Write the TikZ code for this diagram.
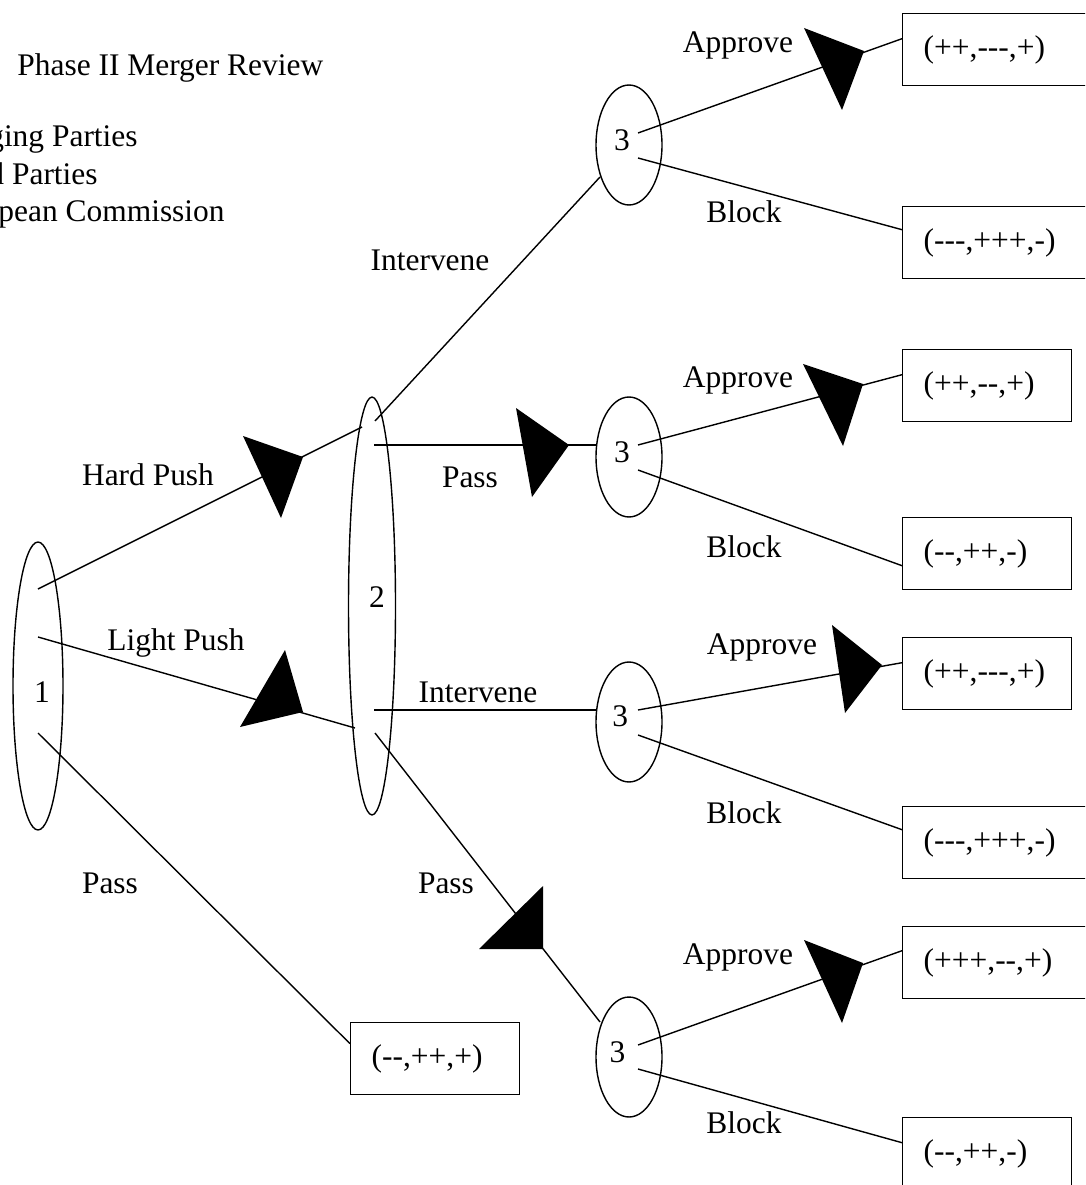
\documentclass[tikz,border=0pt]{standalone}
\usepackage{fontspec}
\setmainfont{Liberation Serif}
\usetikzlibrary{positioning,shapes.geometric,calc}

\tikzset{
  player/.style={draw,ellipse,line width=0.8pt,inner sep=0pt},
  third/.style={player,minimum width=1.32cm,minimum height=2.4cm},
  payoff/.style={draw,rectangle,line width=0.8pt,anchor=north west,minimum height=1.44cm,
    inner xsep=0.42cm,align=left,text width=2.54cm},
  wide/.style={text width=3.3cm},
  move/.style={line width=0.8pt},
  head/.style={fill=black},
  lbl/.style={inner sep=0pt}
}

\begin{document}
\begin{tikzpicture}[x=0.02cm,y=-0.02cm,every node/.style={font=\fontsize{17.9}{21}\selectfont}]
  \useasboundingbox (0,0) rectangle (1085,1185);
  \clip (0,0) rectangle (1085,1185);

  % title and key
  \node[lbl,anchor=base west] (title) at (17,76) {Phase II Merger Review};
  \node[lbl,anchor=base east] (key1) at (138,147) {ging Parties};
  \node[lbl,anchor=base east] (key2) at (98,184.5) {d Parties};
  \node[lbl,anchor=base east] (key3) at (225,222) {pean Commission};

  % decision nodes
  \node[player,minimum width=1cm,minimum height=5.76cm,
    label={[lbl,xshift=2.3pt,yshift=-3.4pt]center:1}] (p1) at (38,686) {};
  \node[player,minimum width=0.94cm,minimum height=8.36cm,
    label={[lbl,xshift=2.8pt,yshift=5pt]center:2}] (p2) at (372,606) {};
  \node[third,label={[lbl,xshift=-4pt,yshift=2.8pt]center:3}] (c1) at (629,145) {};
  \node[third,label={[lbl,xshift=-4pt,yshift=2.8pt]center:3}] (c2) at (629,457) {};
  \node[third,label={[lbl,xshift=-5pt,yshift=3.5pt]center:3}] (c3) at (629,722) {};
  \node[third,label={[lbl,xshift=-6.5pt,yshift=2.8pt]center:3}] (c4) at (629,1057) {};

  % outcomes
  \node[payoff,wide] (b1) at (902,13) {(++,-{}-{}-,+)};
  \node[payoff,wide] (b2) at (902,206) {(-{}-{}-,+++,-)};
  \node[payoff] (b3) at (902,349) {(++,-{}-,+)};
  \node[payoff] (b4) at (902,517) {(-{}-,++,-)};
  \node[payoff] (b5) at (902,637) {(++,-{}-{}-,+)};
  \node[payoff,wide] (b6) at (902,806) {(-{}-{}-,+++,-)};
  \node[payoff,wide] (b7) at (902,926) {(+++,-{}-,+)};
  \node[payoff] (b8) at (902,1117) {(-{}-,++,-)};
  \node[payoff] (b9) at (350,1022) {(-{}-,++,+)};

  % branch ends
  \coordinate (p1hard) at ($(p1)+(0,-97)$);
  \coordinate (p1light) at ($(p1)+(0,-49)$);
  \coordinate (p1pass) at ($(p1)+(0,47)$);
  \coordinate (p2hard) at (362,427);
  \coordinate (p2light) at (355,728);
  \coordinate (p2int) at ($(p2)+(3,-185)$);
  \coordinate (p2pass) at ($(p2)+(2,-161)$);
  \coordinate (p2int2) at ($(p2)+(2,104)$);
  \coordinate (p2pass2) at ($(p2)+(3,127)$);
  \coordinate (c1in) at (600,177);
  \coordinate (c2in) at (597,445);
  \coordinate (c3in) at (597,710);
  \coordinate (c4in) at (600,1022);

  % player 1
  \draw[move] (p1hard) -- (p2hard);
  \draw[move] (p1light) -- (p2light);
  \draw[move] (p1pass) -- ($(b9.west)+(0,-15)$);
  % player 2
  \draw[move] (p2int) -- (c1in);
  \draw[move] (p2pass) -- (c2in);
  \draw[move] (p2int2) -- (c3in);
  \draw[move] (p2pass2) -- (c4in);
  % commission
  \draw[move] ($(c1)+(9,-12)$) -- ($(b1.west)+(0,-11)$);
  \draw[move] ($(c1)+(9,13)$) -- ($(b2.west)+(0,-13)$);
  \draw[move] ($(c2)+(9,-12)$) -- ($(b3.west)+(0,-11)$);
  \draw[move] ($(c2)+(9,13)$) -- ($(b4.west)+(0,12)$);
  \draw[move] ($(c3)+(9,-12)$) -- ($(b5.west)+(0,-11)$);
  \draw[move] ($(c3)+(9,13)$) -- ($(b6.west)+(0,-13)$);
  \draw[move] ($(c4)+(9,-12)$) -- ($(b7.west)+(0,-12)$);
  \draw[move] ($(c4)+(9,12)$) -- ($(b8.west)+(0,-11)$);

  % heads
  \fill[head] (243,436) -- (303,457) -- (281,518) -- cycle;
  \fill[head] (285,650) -- (303,712) -- (240,727) -- cycle;
  \fill[head] (516,408) -- (569,445) -- (532,497) -- cycle;
  \fill[head] (543,886) -- (543,949) -- (479,949) -- cycle;
  \fill[head] (804,28) -- (864,51) -- (842,110) -- cycle;
  \fill[head] (803,364) -- (863,384) -- (843,446) -- cycle;
  \fill[head] (832,625) -- (882,665) -- (845,713) -- cycle;
  \fill[head] (804,940) -- (863,963) -- (842,1023) -- cycle;

  % move labels
  \node[lbl] (lhard) at (148,475) {Hard Push};
  \node[lbl] (llight) at (176,643) {Light Push};
  \node[lbl] (lpass1) at (110,883) {Pass};
  \node[lbl] (lint) at (430,260) {Intervene};
  \node[lbl] (lpass2) at (470,477) {Pass};
  \node[lbl] (lint2) at (478,692) {Intervene};
  \node[lbl] (lpass3) at (446,883) {Pass};
  \node[lbl] (lapp1) at (738,45) {Approve};
  \node[lbl] (lblk1) at (744,212) {Block};
  \node[lbl] (lapp2) at (738,380) {Approve};
  \node[lbl] (lblk2) at (744,547) {Block};
  \node[lbl] (lapp3) at (762,647) {Approve};
  \node[lbl] (lblk3) at (744,813) {Block};
  \node[lbl] (lapp4) at (738,957) {Approve};
  \node[lbl] (lblk4) at (744,1123) {Block};
\end{tikzpicture}
\end{document}
